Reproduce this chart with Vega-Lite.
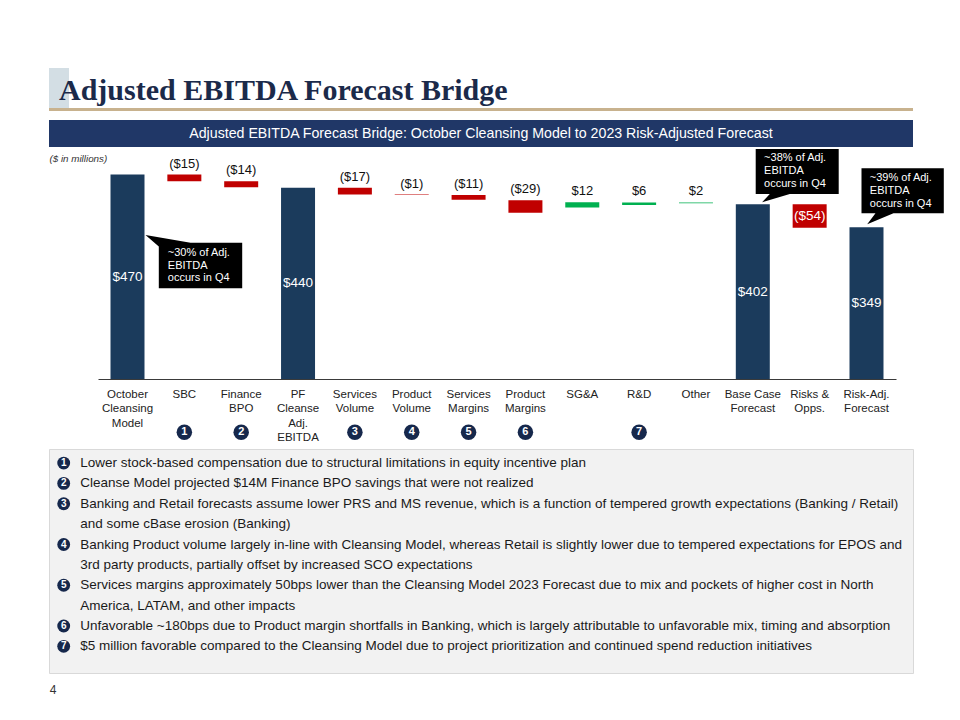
{
  "$schema": "https://vega.github.io/schema/vega-lite/v6.json",
  "padding": {"left": 48, "top": 68, "right": 0, "bottom": 0},
  "background": "white",
  "bounds": "flush",
  "spacing": 0,
  "config": {"view": {"stroke": null}, "font": "Liberation Sans"},
  "datasets": {
    "bars": [
      {"cat": "October\nCleansing\nModel", "kind": "total", "value": 470, "low": 0, "high": 470},
      {"cat": "SBC", "kind": "decrease", "value": -15, "low": 455, "high": 470},
      {"cat": "Finance\nBPO", "kind": "decrease", "value": -14, "low": 441, "high": 455},
      {"cat": "PF\nCleanse\nAdj.\nEBITDA", "kind": "total", "value": 440, "low": 0, "high": 440},
      {"cat": "Services\nVolume", "kind": "decrease", "value": -17, "low": 424, "high": 440},
      {"cat": "Product\nVolume", "kind": "decrease", "value": -1, "low": 423, "high": 424},
      {"cat": "Services\nMargins", "kind": "decrease", "value": -11, "low": 412, "high": 423},
      {"cat": "Product\nMargins", "kind": "decrease", "value": -29, "low": 382.5, "high": 411},
      {"cat": "SG&A", "kind": "increase", "value": 12, "low": 394.5, "high": 406.5},
      {"cat": "R&D", "kind": "increase", "value": 6, "low": 400, "high": 406},
      {"cat": "Other", "kind": "increase", "value": 2, "low": 404, "high": 406},
      {"cat": "Base Case\nForecast", "kind": "total", "value": 402, "low": 0, "high": 402},
      {"cat": "Risks &\nOpps.", "kind": "decrease", "value": -54, "low": 348, "high": 402},
      {"cat": "Risk-Adj.\nForecast", "kind": "total", "value": 349, "low": 0, "high": 349}
    ],
    "markers": [
      {"cat": "SBC", "n": 1},
      {"cat": "Finance\nBPO", "n": 2},
      {"cat": "Services\nVolume", "n": 3},
      {"cat": "Product\nVolume", "n": 4},
      {"cat": "Services\nMargins", "n": 5},
      {"cat": "Product\nMargins", "n": 6},
      {"cat": "R&D", "n": 7}
    ],
    "notes": [
      {"line": 1, "n": 1, "text": "Lower stock-based compensation due to structural limitations in equity incentive plan"},
      {"line": 2, "n": 2, "text": "Cleanse Model projected $14M Finance BPO savings that were not realized"},
      {"line": 3, "n": 3, "text": "Banking and Retail forecasts assume lower PRS and MS revenue, which is a function of tempered growth expectations (Banking / Retail)"},
      {"line": 4, "n": null, "text": "and some cBase erosion (Banking)"},
      {"line": 5, "n": 4, "text": "Banking Product volume largely in-line with Cleansing Model, whereas Retail is slightly lower due to tempered expectations for EPOS and"},
      {"line": 6, "n": null, "text": "3rd party products, partially offset by increased SCO expectations"},
      {"line": 7, "n": 5, "text": "Services margins approximately 50bps lower than the Cleansing Model 2023 Forecast due to mix and pockets of higher cost in North"},
      {"line": 8, "n": null, "text": "America, LATAM, and other impacts"},
      {"line": 9, "n": 6, "text": "Unfavorable ~180bps due to Product margin shortfalls in Banking, which is largely attributable to unfavorable mix, timing and absorption"},
      {"line": 10, "n": 7, "text": "$5 million favorable compared to the Cleansing Model due to project prioritization and continued spend reduction initiatives"}
    ]
  },
  "vconcat": [
    {
      "width": 20, "height": 40,
      "view": {"fill": "#d3dee4", "stroke": null},
      "data": {"values": [{"title": "Adjusted EBITDA Forecast Bridge"}]},
      "mark": {"type": "text", "align": "left", "baseline": "alphabetic", "dy": 12, "font": "Liberation Serif", "fontSize": 30, "fontWeight": "bold", "color": "#1b2a4a"},
      "encoding": {"text": {"field": "title"}}
    },
    {
      "width": 864, "height": 3,
      "view": {"fill": "#c8b28e", "stroke": null},
      "data": {"values": []},
      "mark": "point"
    },
    {
      "width": 864, "height": 9,
      "data": {"values": []},
      "mark": "point"
    },
    {
      "width": 864, "height": 27,
      "view": {"fill": "#203767", "stroke": null},
      "data": {"values": [{"t": "Adjusted EBITDA Forecast Bridge: October Cleansing Model to 2023 Risk-Adjusted Forecast"}]},
      "mark": {"type": "text", "color": "white", "fontSize": 14.2, "baseline": "middle"},
      "encoding": {"text": {"field": "t"}}
    },
    {
      "width": 864, "height": 232,
      "data": {"name": "bars"},
      "layer": [
        {
          "mark": {"type": "bar"},
          "encoding": {
            "x": {
              "field": "cat", "type": "nominal", "sort": null,
              "scale": {
                "domain": ["October\nCleansing\nModel", "SBC", "Finance\nBPO", "PF\nCleanse\nAdj.\nEBITDA", "Services\nVolume", "Product\nVolume", "Services\nMargins", "Product\nMargins", "SG&A", "R&D", "Other", "Base Case\nForecast", "Risks &\nOpps.", "Risk-Adj.\nForecast"],
                "range": [49, 847], "paddingInner": 0.402, "paddingOuter": 0.22
              },
              "axis": {"title": null, "labelExpr": "split(datum.label, '\\n')", "labelAngle": 0, "labelFontSize": 11.5, "labelColor": "#222222", "labelLineHeight": 14.5, "labelPadding": 9, "ticks": false, "tickSize": 0, "domainColor": "#3a3a3a", "domainWidth": 1.2, "labelOverlap": false, "labelBaseline": "top", "labelFlush": false}
            },
            "y": {
              "field": "low", "type": "quantitative",
              "scale": {"domain": [0, 533.5], "nice": false, "zero": false},
              "axis": {"title": "($ in millions)", "labels": false, "ticks": false, "domain": false, "grid": false, "titleAngle": 0, "titleAlign": "left", "titleBaseline": "middle", "titleX": 0, "titleY": 11, "titleFontSize": 9.8, "titleFontStyle": "italic", "titleFontWeight": "normal", "titleColor": "#333333"}
            },
            "y2": {"field": "high"},
            "color": {"field": "kind", "type": "nominal", "scale": {"domain": ["total", "decrease", "increase"], "range": ["#1b3b5c", "#c00000", "#00b050"]}, "legend": null}
          }
        },
        {
          "transform": [{"filter": "datum.kind != 'total' && datum.value != -54"}],
          "mark": {"type": "text", "dy": -11, "fontSize": 13, "color": "#111111", "baseline": "middle"},
          "encoding": {
            "x": {"field": "cat", "type": "nominal"},
            "y": {"field": "high", "type": "quantitative"},
            "text": {"field": "value", "type": "quantitative", "format": "($.0f"}
          }
        },
        {
          "transform": [{"filter": "datum.kind == 'total' || datum.value == -54"}, {"fold": ["low", "high"], "as": ["k", "v"]}],
          "mark": {"type": "text", "fontSize": 13.5, "color": "white", "baseline": "middle"},
          "encoding": {
            "x": {"field": "cat", "type": "nominal"},
            "y": {"field": "v", "aggregate": "mean", "type": "quantitative"},
            "text": {"field": "value", "type": "quantitative", "format": "($.0f"}
          }
        },
        {
          "data": {"name": "markers"},
          "mark": {"type": "circle", "size": 240, "opacity": 1, "color": "#16284c"},
          "encoding": {
            "x": {"field": "cat", "type": "nominal"},
            "y": {"datum": -122.3}
          }
        },
        {
          "data": {"name": "markers"},
          "mark": {"type": "text", "fontSize": 11, "fontWeight": "bold", "color": "white", "baseline": "middle"},
          "encoding": {
            "x": {"field": "cat", "type": "nominal"},
            "y": {"datum": -122.3},
            "text": {"field": "n", "type": "nominal"}
          }
        },
        {
          "data": {"values": [{"cat": "October\nCleansing\nModel", "value": 470, "note": ["~30% of Adj.", "EBITDA", "occurs in Q4"]}]},
          "encoding": {
            "x": {"field": "cat", "type": "nominal"},
            "y": {"field": "value", "type": "quantitative"}
          },
          "layer": [
            {"mark": {"type": "point", "shape": "M0.36,1.208L1.26,1.362L2.294,1.362L2.294,2.274L0.626,2.274L0.626,1.44Z", "size": 10000, "filled": true, "color": "#000000", "opacity": 1, "strokeWidth": 0}},
            {"mark": {"type": "text", "align": "left", "baseline": "middle", "dx": 40.3, "dy": 78.1, "fontSize": 11, "lineHeight": 12.8, "color": "white"}, "encoding": {"text": {"field": "note"}}}
          ]
        },
        {
          "data": {"values": [{"cat": "Base Case\nForecast", "value": 402, "note": ["~38% of Adj.", "EBITDA", "occurs in Q4"]}]},
          "encoding": {
            "x": {"field": "cat", "type": "nominal"},
            "y": {"field": "value", "type": "quantitative"}
          },
          "layer": [
            {"mark": {"type": "point", "shape": "M0.058,-1.104L1.718,-1.104L1.718,-0.204L0.74,-0.204L0.186,-0.038L0.34,-0.204L0.058,-0.204Z", "size": 10000, "filled": true, "color": "#000000", "opacity": 1, "strokeWidth": 0}},
            {"mark": {"type": "text", "align": "left", "baseline": "middle", "dx": 11.3, "dy": -45.9, "fontSize": 11, "lineHeight": 12.8, "color": "white"}, "encoding": {"text": {"field": "note"}}}
          ]
        },
        {
          "data": {"values": [{"cat": "Risk-Adj.\nForecast", "value": 349, "note": ["~39% of Adj.", "EBITDA", "occurs in Q4"]}]},
          "encoding": {
            "x": {"field": "cat", "type": "nominal"},
            "y": {"field": "value", "type": "quantitative"}
          },
          "layer": [
            {"mark": {"type": "point", "shape": "M-0.1,-1.178L1.546,-1.178L1.546,-0.278L0.54,-0.278L0.014,-0.058L0.18,-0.278L-0.1,-0.278Z", "size": 10000, "filled": true, "color": "#000000", "opacity": 1, "strokeWidth": 0}},
            {"mark": {"type": "text", "align": "left", "baseline": "middle", "dx": 3.3, "dy": -48.9, "fontSize": 11, "lineHeight": 12.8, "color": "white"}, "encoding": {"text": {"field": "note"}}}
          ]
        }
      ]
    },
    {
      "width": 864, "height": 70,
      "data": {"values": []},
      "mark": "point"
    },
    {
      "width": 864, "height": 224,
      "view": {"fill": "#f2f2f2", "stroke": "#d9d9d9", "strokeWidth": 1},
      "data": {"name": "notes"},
      "encoding": {
        "y": {"field": "line", "type": "ordinal", "scale": {"type": "point", "domain": [1, 2, 3, 4, 5, 6, 7, 8, 9, 10], "padding": 1.11, "align": 0.345}, "axis": null}
      },
      "layer": [
        {
          "transform": [{"filter": {"field": "n", "valid": true}}],
          "mark": {"type": "circle", "size": 165, "opacity": 1, "color": "#16284c"},
          "encoding": {"x": {"value": 14.7}}
        },
        {
          "transform": [{"filter": {"field": "n", "valid": true}}],
          "mark": {"type": "text", "fontSize": 10, "fontWeight": "bold", "color": "white", "baseline": "middle"},
          "encoding": {"x": {"value": 14.7}, "text": {"field": "n", "type": "nominal"}}
        },
        {
          "mark": {"type": "text", "align": "left", "baseline": "middle", "fontSize": 13.5, "color": "#1a1a1a"},
          "encoding": {"x": {"value": 31.3}, "text": {"field": "text", "type": "nominal"}}
        }
      ]
    },
    {
      "width": 8, "height": 33,
      "data": {"values": [{"page": "4"}]},
      "mark": {"type": "text", "fontSize": 12, "color": "#333333"},
      "encoding": {"text": {"field": "page", "type": "nominal"}}
    }
  ]
}
